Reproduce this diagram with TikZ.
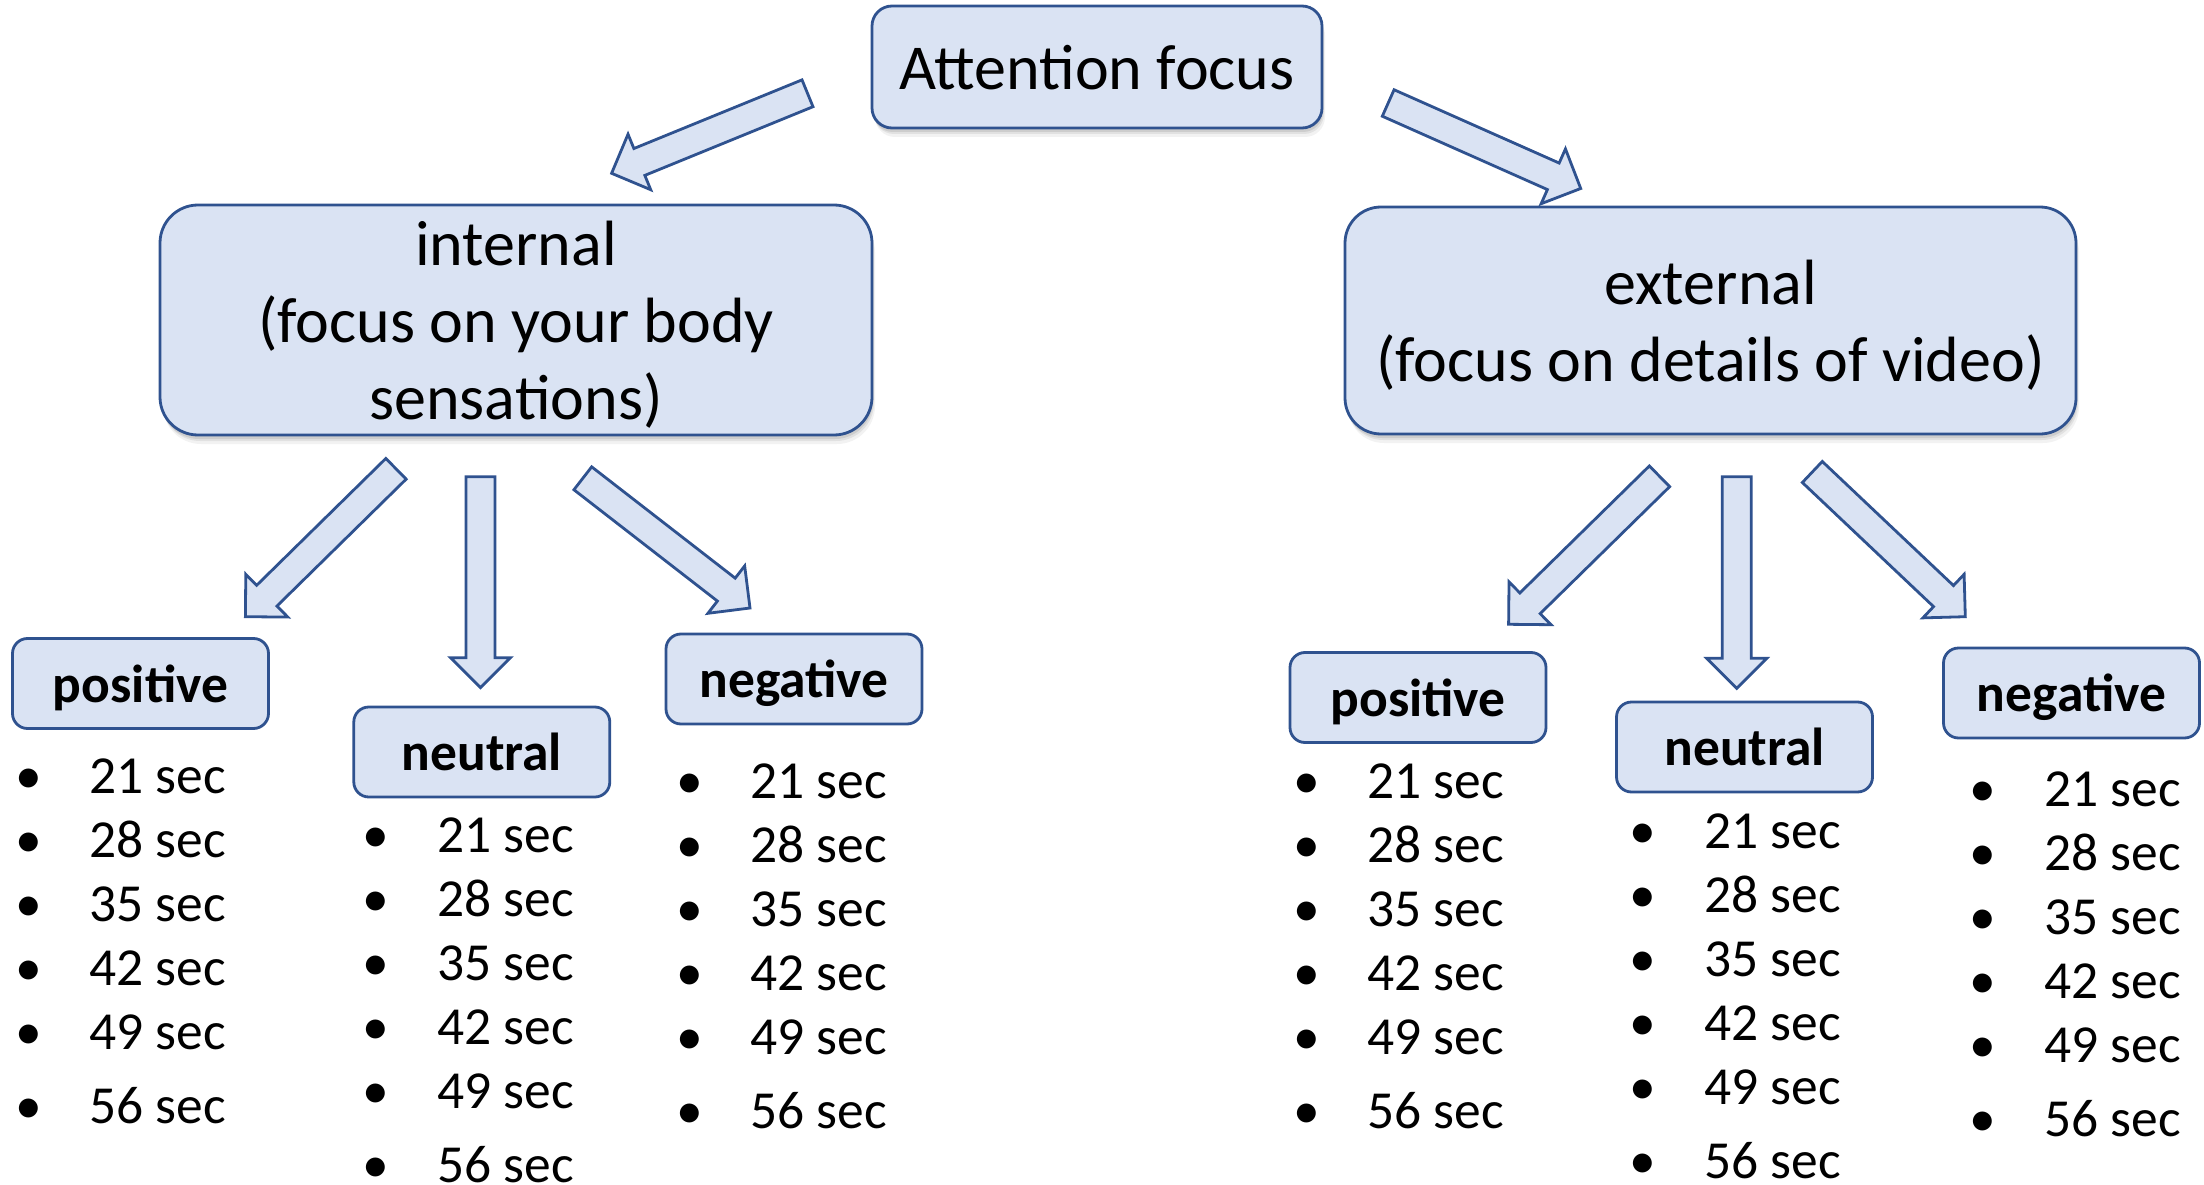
\documentclass[tikz,border=0pt]{standalone}
\usepackage{fontspec}
\setmainfont{Carlito}
\usetikzlibrary{calc}

\definecolor{boxfill}{HTML}{DAE3F3}
\definecolor{boxline}{HTML}{2F528F}

\tikzset{
  softshadow/.style={
    preaction={fill=black, opacity=.05, draw=none, transform canvas={xshift=3pt, yshift=-9pt}},
    preaction={fill=black, opacity=.07, draw=none, transform canvas={xshift=2pt, yshift=-6pt}},
    preaction={fill=black, opacity=.09, draw=none, transform canvas={xshift=1pt, yshift=-4pt}}
  },
  bigbox/.style={draw=boxline, fill=boxfill, line width=2.8pt, rounded corners=#1,
    align=center, inner sep=0pt, text depth=0pt, softshadow,
    font=\fontsize{64}{77}\selectfont},
  catbox/.style={draw=boxline, fill=boxfill, line width=2.8pt, rounded corners=15pt,
    inner sep=0pt, text depth=0pt, minimum width=256pt, minimum height=90pt,
    font=\fontsize{53.5}{64}\selectfont\bfseries},
  arrowshape/.style={draw=boxline, fill=boxfill, line width=2.8pt, line join=miter},
  bul/.style={anchor=base, inner sep=0pt, font=\fontsize{53.5}{64}\selectfont},
  itm/.style={anchor=base west, inner sep=0pt, font=\fontsize{53.5}{64}\selectfont}
}

% hollow block arrow from tail point #1 to tip point #2
\newcommand\blockarrow[2]{%
  \coordinate (#2-base) at ($(#2)!30pt!(#1)$);
  \draw[arrowshape]
    ($(#1)!14.5pt!90:(#2)$) --
    ($(#2-base)!14.5pt!90:(#2)$) --
    ($(#2-base)!30pt!90:(#2)$) --
    (#2) --
    ($(#2-base)!30pt!-90:(#2)$) --
    ($(#2-base)!14.5pt!-90:(#2)$) --
    ($(#1)!14.5pt!-90:(#2)$) -- cycle;
}

\begin{document}
\begin{tikzpicture}[x=1pt, y=-1pt]
\useasboundingbox (0,0) rectangle (2204,1185);

% arrow end points
\coordinate (a1s) at (807.5,93.3);   \coordinate (a1e) at (611.6,173.3);
\coordinate (a2s) at (1388.2,103);   \coordinate (a2e) at (1580.7,188.5);
\coordinate (a3s) at (396,468.8);    \coordinate (a3e) at (245.4,616.7);
\coordinate (a4s) at (480.5,476.7);  \coordinate (a4e) at (480.5,687.7);
\coordinate (a5s) at (582.8,478.3);  \coordinate (a5e) at (750,608);
\coordinate (a6s) at (1659.5,476.3); \coordinate (a6e) at (1508.6,624.3);
\coordinate (a7s) at (1736.7,476.7); \coordinate (a7e) at (1736.7,688.3);
\coordinate (a8s) at (1812.3,472);   \coordinate (a8e) at (1965.3,616.7);

\blockarrow{a1s}{a1e}
\blockarrow{a2s}{a2e}
\blockarrow{a3s}{a3e}
\blockarrow{a4s}{a4e}
\blockarrow{a5s}{a5e}
\blockarrow{a6s}{a6e}
\blockarrow{a7s}{a7e}
\blockarrow{a8s}{a8e}

% main boxes
\node[bigbox=20pt, minimum width=450pt, minimum height=122pt] (top) at (1097,67) {Attention focus};
\node[bigbox=38pt, minimum width=712pt, minimum height=230pt] (int) at (516,320)
  {internal\\(focus on your body\\sensations)};
\node[bigbox=36pt, minimum width=731pt, minimum height=227pt] (ext) at (1710.5,320.5)
  {external\\(focus on details of video)};

% category boxes
\node[catbox] (lpos) at (140.5,683.5) {positive};
\node[catbox] (lneu) at (481.8,752) {neutral};
\node[catbox] (lneg) at (794,679) {negative};
\node[catbox] (rpos) at (1418,697.5) {positive};
\node[catbox] (rneu) at (1744.5,747) {neutral};
\node[catbox] (rneg) at (2071.5,693) {negative};

% duration lists: five evenly spaced rows, then a wider gap before the last
\foreach \lst/\xb/\xt/\ya in {lp/29/89/777, ln/376/437/836,
    lg/690/750/781.5, rp/1307/1367/781.5,
    rn/1643/1704/832, rg/1983/2044/790} {
  \foreach \v [count=\i] in {21,28,35,42,49} {
    \pgfmathsetmacro\yy{\ya+(\i-1)*64+16.9}
    \node[bul] (\lst-b\i) at (\xb,\yy) {•};
    \node[itm] (\lst-t\i) at (\xt,\yy) {\v\ sec};
  }
  \pgfmathsetmacro\yy{\ya+329.7+16.9}
  \node[bul] (\lst-b6) at (\xb,\yy) {•};
  \node[itm] (\lst-t6) at (\xt,\yy) {56 sec};
}
\end{tikzpicture}
\end{document}
